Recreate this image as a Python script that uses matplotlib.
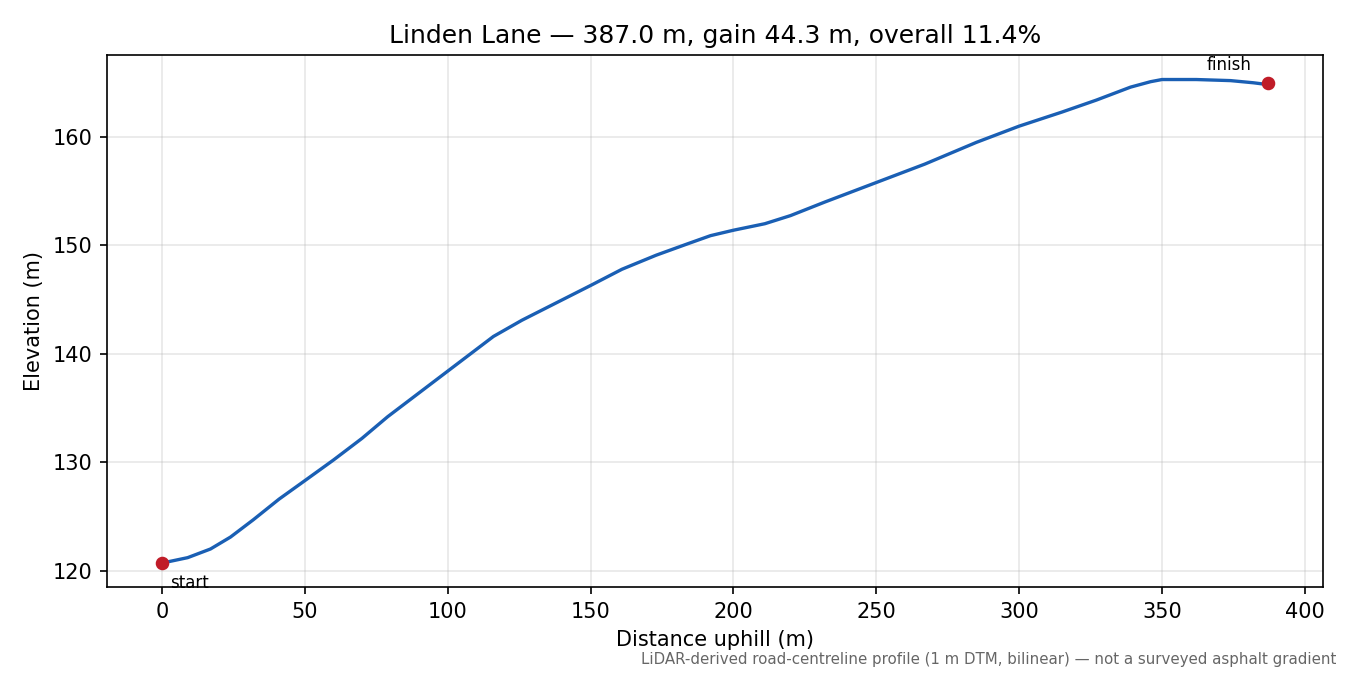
import numpy as np
import matplotlib
matplotlib.use('Agg')
import matplotlib.pyplot as plt

# elevation profile
distance = [0, 9, 17, 24, 32, 41, 50, 60, 70, 79, 91, 100, 109, 116, 126, 138,
            150, 161, 173, 184, 192, 200, 211, 220, 232, 250, 267, 285, 300,
            315, 327, 339, 346, 350, 362, 374, 382, 385, 387]
elevation = [120.7, 121.2, 122.0, 123.1, 124.7, 126.6, 128.3, 130.2, 132.2, 134.2,
             136.6, 138.4, 140.2, 141.6, 143.1, 144.7, 146.3, 147.8, 149.1, 150.15,
             150.9, 151.4, 152.0, 152.75, 154.0, 155.8, 157.5, 159.5, 161.0,
             162.3, 163.4, 164.6, 165.1, 165.3, 165.3, 165.2, 165.0, 164.9, 165.0]

road = 'Linden Lane'
length = distance[-1]
gain = elevation[-1] - elevation[0]
overall = gain / length * 100

fig, ax = plt.subplots(figsize=(9, 4.5), dpi=150)
fig.subplots_adjust(left=0.079, right=0.98, top=0.918, bottom=0.13)

ax.plot(distance, elevation, color='#1a5fb4', lw=1.6)
ax.plot([distance[0], distance[-1]], [elevation[0], elevation[-1]], 'o',
        color='#c01c28', ms=5.5)
ax.annotate('start', (distance[0], elevation[0]), xytext=(4, -9.5),
            textcoords='offset points', fontsize=8, va='center', ha='left')
ax.annotate('finish', (distance[-1], elevation[-1]), xytext=(-8, 8.5),
            textcoords='offset points', fontsize=8, va='center', ha='right')

ax.grid(True, alpha=0.3)
ax.set_xlabel('Distance uphill (m)')
ax.set_ylabel('Elevation (m)')
ax.set_title(f'{road} \u2014 {length:.1f} m, gain {gain:.1f} m, overall {overall:.1f}%')

fig.text(0.99, 0.012, 'LiDAR-derived road-centreline profile (1 m DTM, bilinear) \u2014 not a surveyed asphalt gradient',
         ha='right', va='bottom', fontsize=7.2, color='#666666')

plt.savefig('out.png')
plt.close()
